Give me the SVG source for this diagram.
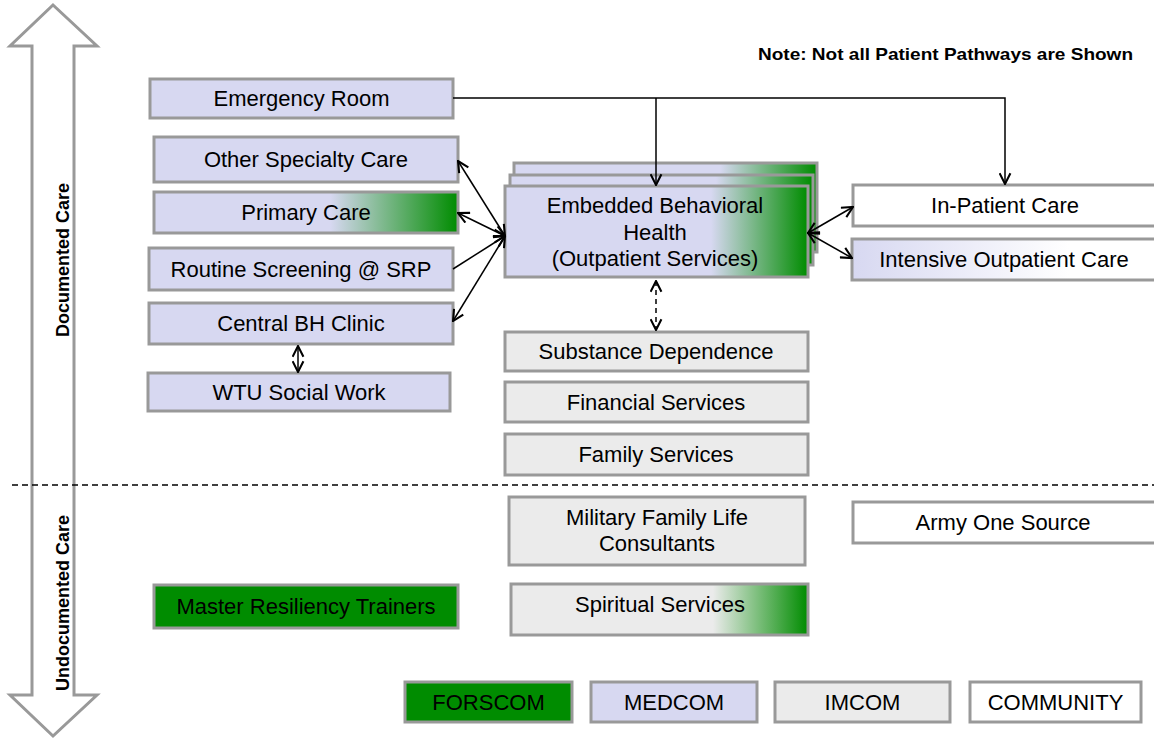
<svg xmlns="http://www.w3.org/2000/svg" width="1154" height="740" viewBox="0 0 1154 740">
<style>
.box{stroke:#999;stroke-width:3}
.med{fill:#d7d8f1}
.im{fill:#ebebeb}
.com{fill:#fff}
.for{fill:#008c00}
.t{font-family:"Liberation Sans",Arial,sans-serif;font-size:22px;fill:#000;text-anchor:middle}
.side{font-family:"Liberation Sans",Arial,sans-serif;font-size:18px;font-weight:bold;fill:#000;text-anchor:middle}
.c{fill:none;stroke:#000;stroke-width:1.5}
</style>
<defs>
<linearGradient id="gMedGreen" x1="0" y1="0" x2="1" y2="0">
<stop offset="0" stop-color="#d7d8f1"/><stop offset="0.58" stop-color="#d7d8f1"/><stop offset="1" stop-color="#008c00"/>
</linearGradient>
<linearGradient id="gEbh" x1="0" y1="0" x2="1" y2="0">
<stop offset="0" stop-color="#d7d8f1"/><stop offset="0.68" stop-color="#d7d8f1"/><stop offset="1" stop-color="#008c00"/>
</linearGradient>
<linearGradient id="gImGreen" x1="0" y1="0" x2="1" y2="0">
<stop offset="0" stop-color="#ebebeb"/><stop offset="0.68" stop-color="#ebebeb"/><stop offset="1" stop-color="#008c00"/>
</linearGradient>
<linearGradient id="gMedWhite" x1="0" y1="0" x2="1" y2="0">
<stop offset="0" stop-color="#d7d8f1"/><stop offset="0.7" stop-color="#ffffff"/>
</linearGradient>
<marker id="ah" viewBox="0 0 12 12" refX="11" refY="6" markerWidth="13" markerHeight="13" orient="auto-start-reverse" markerUnits="userSpaceOnUse">
<path d="M1,1 L11,6 L1,11" fill="none" stroke="#000" stroke-width="1.9"/>
</marker>
</defs>

<g id="axis">
<polygon points="53,5 97,46 74,46 74,695 97,695 53,736 10,695 32,695 32,46 10,46" fill="#fff" stroke="#999" stroke-width="3"/>
<text class="side" transform="translate(69,260) rotate(-90)">Documented Care</text>
<text class="side" transform="translate(69,603) rotate(-90)">Undocumented Care</text>
</g>

<line x1="12" y1="485" x2="1154" y2="485" stroke="#000" stroke-width="1.4" stroke-dasharray="6,4"/>

<text x="1133" y="60" font-family="Liberation Sans, Arial, sans-serif" font-size="17" font-weight="bold" text-anchor="end" textLength="375" lengthAdjust="spacingAndGlyphs">Note: Not all Patient Pathways are Shown</text>

<g id="er"><rect class="box med" x="150" y="79" width="303" height="39"/><text class="t" x="301.5" y="106">Emergency Room</text></g>
<g id="osc"><rect class="box med" x="154" y="137" width="304" height="45"/><text class="t" x="306" y="167">Other Specialty Care</text></g>
<g id="pc"><rect class="box" fill="url(#gMedGreen)" x="154" y="192" width="304" height="41"/><text class="t" x="306" y="220">Primary Care</text></g>
<g id="rs"><rect class="box med" x="149" y="248" width="304" height="42"/><text class="t" x="301" y="277">Routine Screening @ SRP</text></g>
<g id="cbh"><rect class="box med" x="149" y="303" width="304" height="41"/><text class="t" x="301" y="331">Central BH Clinic</text></g>
<g id="wtu"><rect class="box med" x="148" y="373" width="302" height="38"/><text class="t" x="299" y="400">WTU Social Work</text></g>

<g id="ebh">
<rect class="box" fill="url(#gEbh)" x="514" y="163" width="303" height="89"/>
<rect class="box" fill="url(#gEbh)" x="510" y="175" width="303" height="90"/>
<rect class="box" fill="url(#gEbh)" x="505" y="186" width="303" height="91"/>
<text class="t" x="655" y="213">Embedded Behavioral</text>
<text class="t" x="655" y="240">Health</text>
<text class="t" x="655" y="266">(Outpatient Services)</text>
</g>

<g id="ipc"><rect class="box com" x="853" y="185" width="310" height="41"/><text class="t" x="1005" y="213">In-Patient Care</text></g>
<g id="iop"><rect class="box" fill="url(#gMedWhite)" x="852" y="239" width="310" height="41"/><text class="t" x="1004" y="267">Intensive Outpatient Care</text></g>

<g id="sd"><rect class="box im" x="505" y="332" width="303" height="39"/><text class="t" x="656" y="359">Substance Dependence</text></g>
<g id="fs"><rect class="box im" x="505" y="382" width="303" height="40"/><text class="t" x="656" y="410">Financial Services</text></g>
<g id="fam"><rect class="box im" x="505" y="434" width="303" height="41"/><text class="t" x="656" y="462">Family Services</text></g>

<g id="mflc"><rect class="box im" x="509" y="497" width="296" height="68"/><text class="t" x="657" y="525">Military Family Life</text><text class="t" x="657" y="551">Consultants</text></g>
<g id="aos"><rect class="box com" x="853" y="502" width="310" height="41"/><text class="t" x="1003" y="530">Army One Source</text></g>
<g id="mrt"><rect class="box for" x="154" y="585" width="304" height="43"/><text class="t" x="306" y="614">Master Resiliency Trainers</text></g>
<g id="ss"><rect class="box" fill="url(#gImGreen)" x="511" y="584" width="297" height="51"/><text class="t" x="660" y="612">Spiritual Services</text></g>

<g id="legend">
<g id="lg-forscom"><rect class="box for" x="405" y="682" width="167" height="40"/><text class="t" x="488.5" y="710">FORSCOM</text></g>
<g id="lg-medcom"><rect class="box med" x="591" y="682" width="166" height="40"/><text class="t" x="674" y="710">MEDCOM</text></g>
<g id="lg-imcom"><rect class="box im" x="775" y="682" width="175" height="40"/><text class="t" x="862.5" y="710">IMCOM</text></g>
<g id="lg-community"><rect class="box com" x="970" y="682" width="171" height="40"/><text class="t" x="1055.5" y="710">COMMUNITY</text></g>
</g>

<g id="connectors">
<polyline class="c" points="453,98 1005,98 1005,184" marker-end="url(#ah)"/>
<line class="c" x1="656" y1="98" x2="656" y2="185" marker-end="url(#ah)"/>
<line class="c" x1="505" y1="236" x2="458" y2="161" marker-start="url(#ah)" marker-end="url(#ah)"/>
<line class="c" x1="505" y1="236" x2="458" y2="213" marker-start="url(#ah)" marker-end="url(#ah)"/>
<line class="c" x1="453" y1="269" x2="505" y2="236" marker-end="url(#ah)"/>
<line class="c" x1="505" y1="236" x2="453" y2="321" marker-start="url(#ah)" marker-end="url(#ah)"/>
<line class="c" x1="808" y1="233" x2="853" y2="207" marker-start="url(#ah)" marker-end="url(#ah)"/>
<line class="c" x1="808" y1="233" x2="852" y2="258" marker-start="url(#ah)" marker-end="url(#ah)"/>
<line class="c" x1="656" y1="281" x2="656" y2="330" stroke-dasharray="5,4" marker-start="url(#ah)" marker-end="url(#ah)"/>
<line class="c" x1="298" y1="346" x2="298" y2="372" marker-start="url(#ah)" marker-end="url(#ah)"/>
</g>
</svg>
